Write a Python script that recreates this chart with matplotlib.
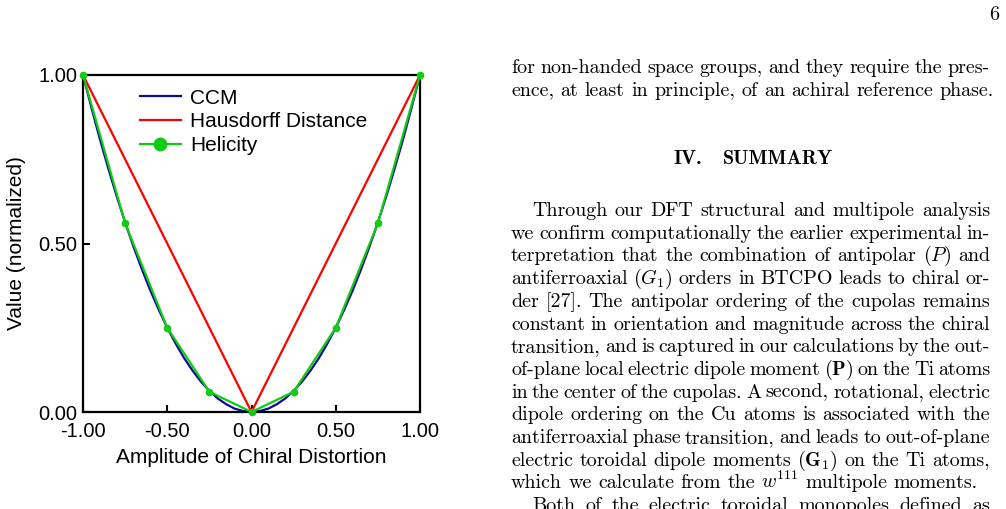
import numpy as np
import matplotlib
matplotlib.use('Agg')
import matplotlib.pyplot as plt

# chart data
ccm_x = [-1.00, -0.95, -0.90, -0.85, -0.80, -0.75, -0.70, -0.65, -0.60, -0.55, -0.50,
         -0.45, -0.40, -0.35, -0.30, -0.25, -0.20, -0.15, -0.10, -0.05, 0.00,
         0.05, 0.10, 0.15, 0.20, 0.25, 0.30, 0.35, 0.40, 0.45, 0.50,
         0.55, 0.60, 0.65, 0.70, 0.75, 0.80, 0.85, 0.90, 0.95, 1.00]
ccm_y = [1.000, 0.903, 0.810, 0.723, 0.640, 0.563, 0.490, 0.423, 0.360, 0.303, 0.250,
         0.203, 0.160, 0.123, 0.090, 0.063, 0.040, 0.023, 0.010, 0.003, 0.000,
         0.003, 0.010, 0.023, 0.040, 0.063, 0.090, 0.123, 0.160, 0.203, 0.250,
         0.303, 0.360, 0.423, 0.490, 0.563, 0.640, 0.723, 0.810, 0.903, 1.000]
haus_x = [-1.0, 0.0, 1.0]
haus_y = [1.0, 0.0, 1.0]
hel_x = [-1.0, -0.75, -0.5, -0.25, 0.0, 0.25, 0.5, 0.75, 1.0]
hel_y = [1.0, 0.56, 0.25, 0.06, 0.0, 0.06, 0.25, 0.56, 1.0]
xticks = [-1.0, -0.5, 0.0, 0.5, 1.0]
yticks = [0.0, 0.5, 1.0]

W, H = 1006, 509
fig = plt.figure(figsize=(W / 100, H / 100), dpi=100)
plt.rcParams['font.family'] = 'Liberation Sans'
plt.rcParams['mathtext.fontset'] = 'cm'

ax = fig.add_axes([83 / W, 1 - 412 / H, 337 / W, 337 / H])
ax.plot(ccm_x, ccm_y, color='#0a0a9c', lw=1.6, label='CCM', zorder=2)
ax.plot(haus_x, haus_y, color='#ff0000', lw=1.6, label='Hausdorff Distance', zorder=3)
ax.plot(hel_x, hel_y, color='#10cc10', lw=1.6, marker='o', ms=4.5,
        label='Helicity', zorder=4, clip_on=False)
ax.set_xlim(-1, 1)
ax.set_ylim(0, 1)
ax.set_xticks(xticks)
ax.set_yticks(yticks)
ax.set_xticklabels(['%.2f' % v for v in xticks])
ax.set_yticklabels(['%.2f' % v for v in yticks])
ax.tick_params(direction='in', length=5, width=1.5, labelsize=14.5)
ax.tick_params(axis='x', pad=7)
ax.tick_params(axis='y', pad=4)
for s in ax.spines.values():
    s.set_linewidth(1.6)
ax.set_xlabel('Amplitude of Chiral Distortion', fontsize=15, labelpad=5)
ax.set_ylabel('Value (normalized)', fontsize=15, labelpad=9)
leg = ax.legend(loc='upper left', bbox_to_anchor=(0.138, 0.99), frameon=False,
                fontsize=15, borderpad=0, handlelength=1.95, handletextpad=0.45,
                labelspacing=0.22)
leg.legend_handles[2].set_markersize(9)

# text column on the right
body = dict(family='cmr10', fontsize=14.45, color='black')
xl, xr = 511, 990
r = fig.canvas.get_renderer()


def put_line(text, yb, justify=True, indent=0, **kw):
    words = text.split(' ')
    ts = [fig.text(0, 1 - yb / H, w, va='baseline', ha='left', **kw) for w in words]
    widths = [t.get_window_extent(r).width for t in ts]
    x0 = xl + indent
    if justify and len(words) > 1:
        gap = (xr - x0 - sum(widths)) / (len(words) - 1)
    else:
        gap = 6.4
    x = x0
    for t, w in zip(ts, widths):
        t.set_x(x / W)
        x += w + gap


put_line('for non-handed space groups, and they require the pres-', 73, **body)
put_line('ence, at least in principle, of an achiral reference phase.', 95.5,
         justify=False, **body)

h1 = fig.text(0, 1 - 164 / H, 'IV.', va='baseline', family='cmb10', fontsize=14.45)
h2 = fig.text(0, 1 - 164 / H, 'SUMMARY', va='baseline', family='cmb10', fontsize=14.45)
w1 = h1.get_window_extent(r).width
w2 = h2.get_window_extent(r).width
hx = 753 - (w1 + 21 + w2) / 2
h1.set_x(hx / W)
h2.set_x((hx + w1 + 21) / W)

para = [
    'Through our DFT structural and multipole analysis',
    'we confirm computationally the earlier experimental in-',
    'terpretation that the combination of antipolar $(P)$ and',
    'antiferroaxial $(G_1)$ orders in BTCPO leads to chiral or-',
    'der [27]. The antipolar ordering of the cupolas remains',
    'constant in orientation and magnitude across the chiral',
    'transition, and is captured in our calculations by the out-',
    r'of-plane local electric dipole moment $(\mathbf{P})$ on the Ti atoms',
    'in the center of the cupolas. A second, rotational, electric',
    'dipole ordering on the Cu atoms is associated with the',
    'antiferroaxial phase transition, and leads to out-of-plane',
    r'electric toroidal dipole moments $(\mathbf{G}_1)$ on the Ti atoms,',
    'which we calculate from the $w^{111}$ multipole moments.',
    'Both of the electric toroidal monopoles defined as',
]
y0 = 216
for i, line in enumerate(para):
    put_line(line, y0 + 22.7 * i, justify=(i != 12),
             indent=21 if i in (0, 13) else 0, **body)

fig.text(999 / W, 1 - 20 / H, '6', family='cmr10', fontsize=14.45, ha='right', va='baseline')

fig.savefig('out.png', dpi=100)
